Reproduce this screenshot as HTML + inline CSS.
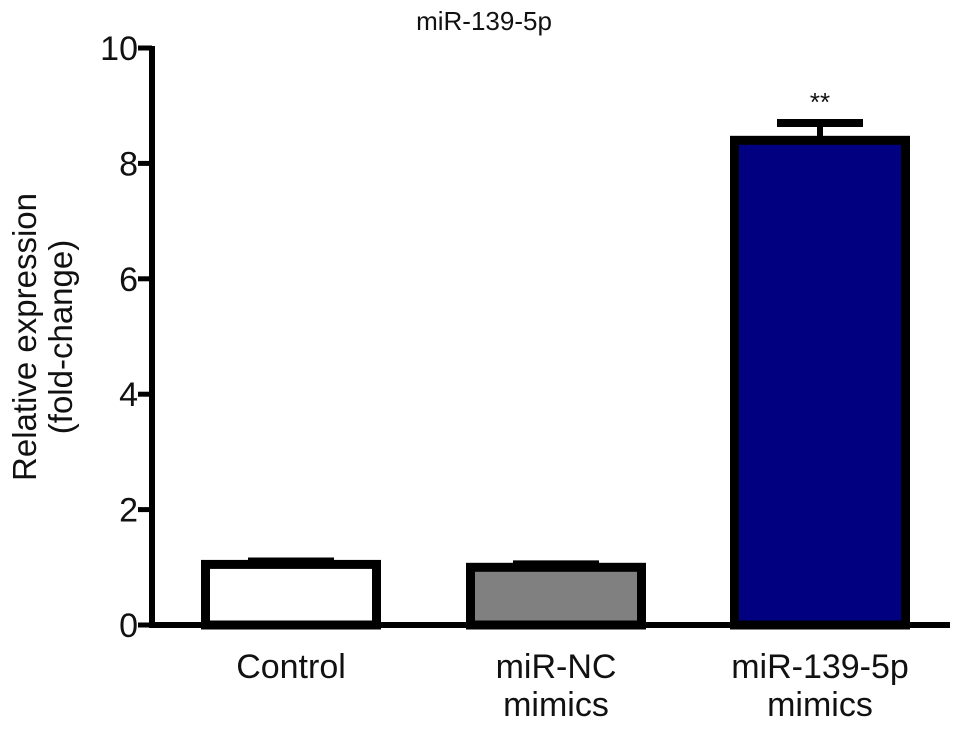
<!DOCTYPE html>
<html><head><meta charset="utf-8"><style>
body{margin:0;background:#fff}
text{font-family:"Liberation Sans",sans-serif;fill:#111}
</style></head><body>
<svg id="c" width="969" height="728"></svg>
<script>
const categories=[["Control"],["miR-NC","mimics"],["miR-139-5p","mimics"]];
const values=[1.05,1.0,8.4];
const errors=[0.05,0.05,0.3];
const fills=["#ffffff","#808080","#000080"];
const ticks=[0,2,4,6,8,10];
const sig=["","","**"];
const svg=document.getElementById('c');
const NS="http://www.w3.org/2000/svg";
const y0=625,y10=48,axX=152;
const y=v=>y0-(y0-y10)*v/10;
const centers=[291,556,820],bw=180;
function mk(t,a,p){const e=document.createElementNS(NS,t);for(const k in a)e.setAttribute(k,a[k]);(p||svg).appendChild(e);return e;}
let t=mk('text',{x:484,y:30,'text-anchor':'middle','font-size':26});t.textContent="miR-139-5p";


let yt=mk('text',{transform:'translate(36,337) rotate(-90)','text-anchor':'middle','font-size':33});


mk('tspan',{x:0,dy:0},yt).textContent="Relative expression";
mk('tspan',{x:0,dy:36},yt).textContent="(fold-change)";
let ya=mk('line',{x1:axX,y1:y(10)-2,x2:axX,y2:y0+3,stroke:'#000','stroke-width':6});


ticks.forEach(v=>{
 let l=mk('line',{x1:axX-14,y1:y(v),x2:axX,y2:y(v),stroke:'#000','stroke-width':5});
 
 
 let tx=mk('text',{x:axX-14,y:y(v)+12,'text-anchor':'end','font-size':34});tx.textContent=v;
 
 
});
values.forEach((v,i)=>{
 const cx=centers[i];
 let eb=mk('line',{x1:cx,y1:y(v),x2:cx,y2:y(v+errors[i]),stroke:'#000','stroke-width':6});
 
 
 let cap=mk('line',{x1:cx-43,y1:y(v+errors[i]),x2:cx+43,y2:y(v+errors[i]),stroke:'#000','stroke-width':8});
 
 
 let r=mk('rect',{x:cx-bw/2+4.5,y:y(v),width:bw-9,height:y0-y(v),fill:fills[i],stroke:'#000','stroke-width':9});
 
 
 if(sig[i]){let s=mk('text',{x:cx,y:y(v+errors[i])-12,'text-anchor':'middle','font-size':26});s.textContent=sig[i];
 
 }
 categories[i].forEach((ln,j)=>{let c=mk('text',{x:cx,y:678+j*38,'text-anchor':'middle','font-size':34});c.textContent=ln;
 
 });
});
let xa=mk('line',{x1:axX-3,y1:y0,x2:950,y2:y0,stroke:'#000','stroke-width':6});


</script>
</body></html>
